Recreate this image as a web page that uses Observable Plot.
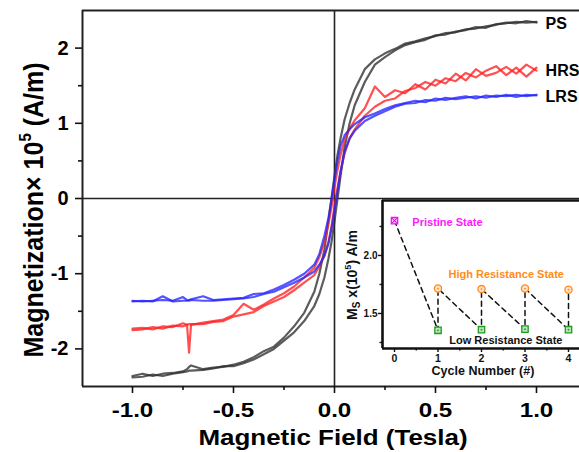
<!DOCTYPE html>
<html><head><meta charset="utf-8">
<script src="https://cdn.jsdelivr.net/npm/d3@7"></script>
<script src="https://cdn.jsdelivr.net/npm/@observablehq/plot@0.6"></script>
<style>
body{margin:0;background:#fff;}
#wrap{position:relative;width:579px;height:452px;overflow:hidden;font-family:"Liberation Sans",Arial,sans-serif;}
#wrap svg{position:absolute;}
</style></head><body><div id="wrap"></div>
<script>
// ---------- main chart data (Magnetic field in Tesla, M in 10^5 A/m) ----------
const field = [-1,-0.95,-0.9,-0.85,-0.8,-0.75,-0.73,-0.72,-0.71,-0.65,-0.6,-0.55,-0.5,-0.45,-0.4,-0.35,-0.3,-0.25,-0.2,-0.15,-0.1,-0.075,-0.05,-0.03,-0.015,0,0.015,0.03,0.05,0.075,0.1,0.15,0.2,0.25,0.3,0.35,0.4,0.45,0.5,0.55,0.6,0.65,0.7,0.75,0.8,0.85,0.9,0.95,1];
const psDown  = [-2.36,-2.33,-2.36,-2.33,-2.32,-2.30,-2.27,-2.24,-2.22,-2.27,-2.25,-2.24,-2.21,-2.17,-2.11,-2.03,-1.97,-1.85,-1.70,-1.52,-1.24,-1.0,-0.68,-0.30,0.0,0.3,0.58,0.8,1.05,1.27,1.45,1.72,1.85,1.93,1.99,2.06,2.09,2.13,2.16,2.20,2.21,2.25,2.26,2.29,2.31,2.34,2.33,2.36,2.34];
const psUp    = [-2.38,-2.37,-2.34,-2.36,-2.33,-2.31,-2.30,-2.29,-2.29,-2.28,-2.26,-2.23,-2.23,-2.19,-2.14,-2.07,-2.0,-1.89,-1.78,-1.63,-1.43,-1.27,-1.05,-0.8,-0.58,-0.3,0.0,0.3,0.68,1.0,1.24,1.55,1.78,1.88,1.97,2.04,2.08,2.11,2.17,2.18,2.22,2.24,2.28,2.27,2.32,2.33,2.35,2.34,2.35];
const hrsDown = [-1.73,-1.72,-1.74,-1.70,-1.71,-1.66,-1.68,-1.67,-1.68,-1.65,-1.63,-1.61,-1.55,-1.40,-1.48,-1.41,-1.33,-1.26,-1.17,-1.05,-0.92,-0.78,-0.58,-0.34,-0.12,0.15,0.38,0.58,0.78,0.93,1.04,1.20,1.49,1.35,1.44,1.40,1.52,1.45,1.58,1.53,1.66,1.57,1.72,1.63,1.67,1.75,1.66,1.78,1.70];
const hrsUp   = [-1.75,-1.74,-1.71,-1.73,-1.69,-1.70,-1.68,-2.05,-1.67,-1.67,-1.64,-1.63,-1.57,-1.54,-1.51,-1.43,-1.37,-1.31,-1.22,-1.12,-1.02,-0.90,-0.76,-0.58,-0.38,-0.10,0.14,0.36,0.60,0.80,0.92,1.10,1.22,1.30,1.33,1.43,1.47,1.55,1.50,1.60,1.56,1.67,1.61,1.70,1.76,1.64,1.74,1.62,1.74];
const lrsDown = [-1.36,-1.37,-1.36,-1.35,-1.36,-1.31,-1.35,-1.35,-1.34,-1.30,-1.35,-1.34,-1.33,-1.32,-1.27,-1.26,-1.21,-1.15,-1.08,-1.00,-0.88,-0.74,-0.50,-0.26,-0.02,0.25,0.50,0.70,0.84,0.92,0.99,1.08,1.13,1.19,1.24,1.27,1.30,1.28,1.33,1.31,1.34,1.36,1.33,1.37,1.35,1.38,1.35,1.38,1.37];
const lrsUp   = [-1.37,-1.36,-1.37,-1.30,-1.37,-1.36,-1.36,-1.36,-1.35,-1.36,-1.36,-1.35,-1.34,-1.33,-1.31,-1.27,-1.24,-1.18,-1.12,-1.05,-0.97,-0.88,-0.76,-0.60,-0.40,-0.16,0.10,0.36,0.62,0.80,0.90,1.03,1.10,1.16,1.22,1.26,1.27,1.31,1.30,1.34,1.32,1.34,1.36,1.34,1.37,1.36,1.38,1.36,1.38];
const seriesNames = ["PS", "HRS", "LRS"];
const xMajorTicks = [-1, -0.5, 0, 0.5, 1];
const xMinorTicks = [-0.75, -0.25, 0.25, 0.75];
const yMajorTicks = [-2, -1, 0, 1, 2];
const yMinorTicks = [-1.5, -0.5, 0.5, 1.5];

// ---------- inset data ----------
const cycleTicks = [0, 1, 2, 3, 4];
const cycleMinor = [0.5, 1.5, 2.5, 3.5];
const pristineCycle = [0];
const pristineMs = [2.30];
const stateCycles = [1, 2, 3, 4];
const hrsMs = [1.715, 1.71, 1.715, 1.705];
const lrsMs = [1.355, 1.36, 1.365, 1.36];
const insetYMajor = [1.5, 2.0];
const insetYMinor = [1.25, 1.75, 2.25];

// ---------- build tables ----------
const branches = {PS: [psUp, psDown], HRS: [hrsUp, hrsDown], LRS: [lrsUp, lrsDown]};
const colors = {PS: "#2e2e2e", HRS: "#ff2020", LRS: "#2323ff"};
const rows = [];
for (const s of seriesNames) {
  branches[s].forEach((arr, b) => arr.forEach((m, i) => rows.push({series: s, branch: s + b, H: field[i], M: m})));
}
const endLabels = seriesNames.map(s => ({label: s, M: (branches[s][0].at(-1) + branches[s][1].at(-1)) / 2}));

const X0 = -1.2475, X1 = 1.2129, Y0 = -2.5, Y1 = 2.5;
const wrap = document.getElementById("wrap");

const main = Plot.plot({
  width: 579, height: 452,
  marginTop: 10, marginBottom: 66, marginLeft: 82, marginRight: 0,
  x: {domain: [X0, X1]},
  y: {domain: [Y0, Y1]},
  style: {fontFamily: "'Liberation Sans', Arial, sans-serif", background: "transparent", overflow: "visible", color: "#111"},
  marks: [
    Plot.ruleY([0], {stroke: "#222", strokeWidth: 1.6}),
    Plot.ruleX([0], {stroke: "#222", strokeWidth: 1.6}),
    ...seriesNames.map(s => Plot.line(rows.filter(r => r.series === s), {x: "H", y: "M", z: "branch", stroke: colors[s], strokeWidth: 2.2, strokeOpacity: 0.78, strokeLinejoin: "round"})),
    Plot.text(endLabels, {x: 1.045, y: "M", text: "label", textAnchor: "start", fontSize: 16, fontWeight: "bold", dy: 2, fill: "#000"}),
    Plot.ruleY([Y1], {stroke: "#222", strokeWidth: 2}),
    Plot.ruleY([Y0], {stroke: "#222", strokeWidth: 2}),
    Plot.ruleX([X0], {stroke: "#222", strokeWidth: 2}),
    Plot.axisX({ticks: xMajorTicks, tickSize: 7, tickPadding: 9, tickFormat: d => d.toFixed(1), fontSize: 21, fontWeight: "bold", label: null, strokeWidth: 1.6, fill: "#000"}),
    Plot.axisX({ticks: xMinorTicks, tickSize: 4, fill: "none", label: null, strokeWidth: 1.6}),
    Plot.axisY({ticks: yMajorTicks, tickSize: 7, tickPadding: 7, tickFormat: d => String(d), fontSize: 20, fontWeight: "bold", label: null, strokeWidth: 1.6, fill: "#000"}),
    Plot.axisY({ticks: yMinorTicks, tickSize: 4, fill: "none", label: null, strokeWidth: 1.6})
  ]
});
main.style.left = "0px"; main.style.top = "0px";
wrap.appendChild(main);

function stretch(svg, selector, sx) {
  svg.querySelectorAll(selector).forEach(t => {
    const tr = t.getAttribute("transform");
    if (tr) t.setAttribute("transform", tr + ` scale(${sx},1)`);
    else {
      const x = t.getAttribute("x") || 0, y = t.getAttribute("y") || 0;
      t.removeAttribute("x"); t.removeAttribute("y");
      t.setAttribute("transform", `translate(${x},${y}) scale(${sx},1)`);
    }
  });
}
stretch(main, 'g[aria-label="x-axis tick label"] text', 1.15);

const ms = d3.select(main);
const yl = ms.append("text")
  .attr("transform", "translate(43,210) scale(1.12,1) rotate(-90)")
  .attr("text-anchor", "middle").attr("font-size", 25).attr("font-weight", "bold").attr("fill", "#000");
yl.append("tspan").text("Magnetization\u00d7 10");
yl.append("tspan").attr("font-size", 15).attr("dy", -11).text("5");
yl.append("tspan").attr("dy", 11).text(" (A/m)");
ms.append("text")
  .attr("transform", "translate(333,445) scale(1.18,1)")
  .attr("text-anchor", "middle").attr("font-size", 22).attr("font-weight", "bold").attr("fill", "#000")
  .text("Magnetic Field (Tesla)");

// ---------- inset ----------
const path = [{c: pristineCycle[0], m: pristineMs[0]}];
stateCycles.forEach((c, i) => { path.push({c, m: lrsMs[i]}); path.push({c, m: hrsMs[i]}); });
const IX0 = -0.276, IX1 = 4.253, IY0 = 1.198, IY1 = 2.474;
const inset = Plot.plot({
  width: 249, height: 195,
  marginTop: 5, marginBottom: 42, marginLeft: 52, marginRight: 0,
  x: {domain: [IX0, IX1]},
  y: {domain: [IY0, IY1]},
  style: {fontFamily: "'Liberation Sans', Arial, sans-serif", background: "transparent", overflow: "visible", color: "#111"},
  marks: [
    Plot.frame({fill: "white", stroke: "none"}),
    Plot.line(path, {x: "c", y: "m", stroke: "#111", strokeWidth: 1.5, strokeDasharray: "5,4"}),
    Plot.dot(pristineCycle, {x: d => d, y: (d, i) => pristineMs[i], symbol: "square", r: 3.6, stroke: "#e01fe0", fill: "#f7b0f7", strokeWidth: 1.3}),
    Plot.dot(pristineCycle, {x: d => d, y: (d, i) => pristineMs[i], symbol: "times", r: 2.4, stroke: "#d000d0", strokeWidth: 1}),
    Plot.dot(stateCycles, {x: d => d, y: (d, i) => hrsMs[i], symbol: "circle", r: 3.6, stroke: "#ff8a1c", fill: "#ffe3c8", strokeWidth: 1.3}),
    Plot.dot(stateCycles, {x: d => d, y: (d, i) => hrsMs[i], r: 0.9, fill: "#ff8a1c"}),
    Plot.dot(stateCycles, {x: d => d, y: (d, i) => lrsMs[i], symbol: "square", r: 3.6, stroke: "#1f9a1f", fill: "#b8e6b8", strokeWidth: 1.3}),
    Plot.dot(stateCycles, {x: d => d, y: (d, i) => lrsMs[i], r: 0.9, fill: "#1f9a1f"}),
    Plot.text(["Pristine State"], {x: 0.41, y: 2.285, text: d => d, textAnchor: "start", fontSize: 11, fontWeight: "bold", fill: "#ff1aff"}),
    Plot.text(["High Resistance State"], {x: 1.24, y: 1.836, text: d => d, textAnchor: "start", fontSize: 11, fontWeight: "bold", fill: "#ff8c1a"}),
    Plot.text(["Low Resistance State"], {x: 1.26, y: 1.267, text: d => d, textAnchor: "start", fontSize: 11, fontWeight: "bold", fill: "#111"}),
    Plot.ruleX([IX0], {stroke: "#111", strokeWidth: 2.6}),
    Plot.ruleY([IY1], {stroke: "#111", strokeWidth: 2.6}),
    Plot.ruleY([IY0], {stroke: "#111", strokeWidth: 2.6}),
    Plot.axisX({ticks: cycleTicks, tickSize: 4, tickPadding: 2, tickFormat: d => String(d), fontSize: 10.5, fontWeight: "bold", label: null, strokeWidth: 1.4, fill: "#111"}),
    Plot.axisX({ticks: cycleMinor, tickSize: 2.5, fill: "none", label: null, strokeWidth: 1.4}),
    Plot.axisY({ticks: insetYMajor, tickSize: 4, tickPadding: 1, tickFormat: d => d.toFixed(1), fontSize: 10, fontWeight: "bold", label: null, strokeWidth: 1.4, fill: "#111"}),
    Plot.axisY({ticks: insetYMinor, tickSize: 2.5, fill: "none", label: null, strokeWidth: 1.4})
  ]
});
inset.style.left = "330px"; inset.style.top = "195px";
wrap.appendChild(inset);
const is = d3.select(inset);
const il = is.append("text")
  .attr("transform", "translate(27,80) rotate(-90)")
  .attr("text-anchor", "middle").attr("font-size", 14).attr("font-weight", "bold").attr("fill", "#111");
il.append("tspan").text("M");
il.append("tspan").attr("font-size", 10).attr("dy", 3).text("S");
il.append("tspan").attr("dy", -3).text(" x(10");
il.append("tspan").attr("font-size", 9).attr("dy", -6).text("5");
il.append("tspan").attr("dy", 6).text(") A/m");
is.append("text")
  .attr("x", 153).attr("y", 180)
  .attr("text-anchor", "middle").attr("font-size", 12.5).attr("font-weight", "bold").attr("fill", "#111")
  .text("Cycle Number (#)");
</script>
</body></html>
